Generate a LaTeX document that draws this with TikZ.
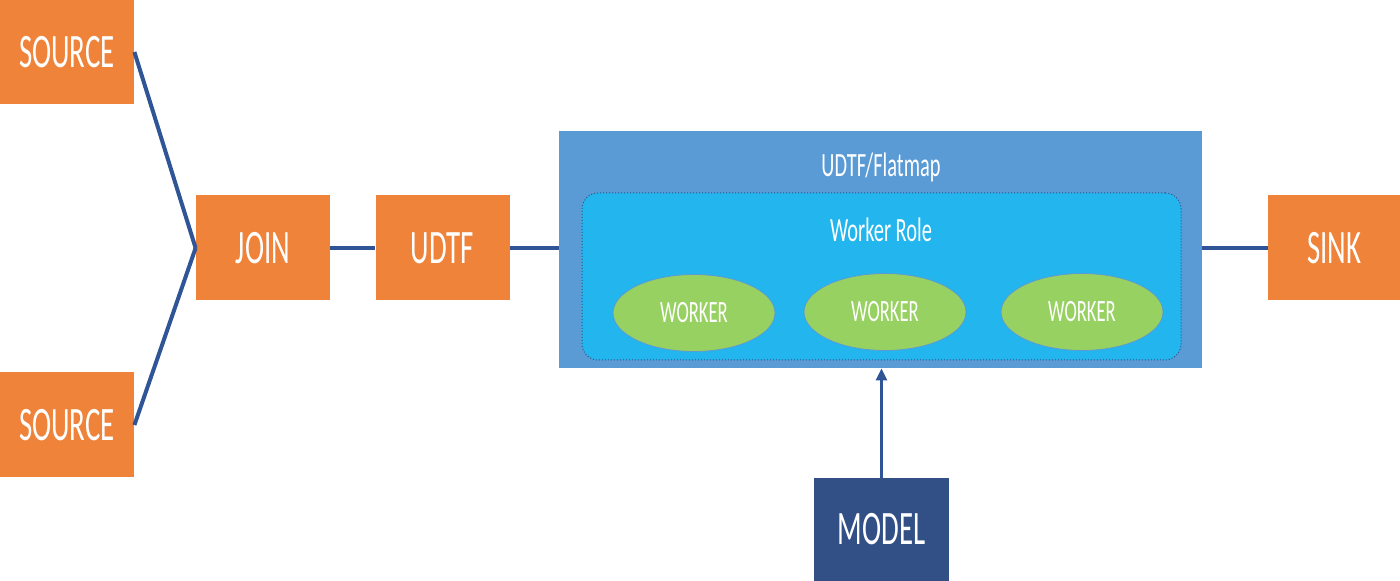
\documentclass[tikz,border=0pt]{standalone}
\usepackage{graphicx}
\usepackage{fontspec}
\setmainfont{Carlito}
\usetikzlibrary{arrows.meta,shapes.geometric}
\definecolor{boxorange}{HTML}{F0833A}
\definecolor{flatblue}{HTML}{5B9BD5}
\definecolor{roleblue}{HTML}{22B5EE}
\definecolor{workgreen}{HTML}{97D161}
\definecolor{modelblue}{HTML}{325086}
\definecolor{linkblue}{HTML}{2F5597}
\newcommand{\narrow}[1]{\scalebox{0.6}[1]{#1}}

\begin{document}
\begin{tikzpicture}[x=0.5pt, y=-0.5pt,
    stage/.style={fill=boxorange, text=white, minimum width=67pt, minimum height=52.5pt, inner sep=0pt,
      font=\fontsize{24}{28}\selectfont},
    worker/.style={ellipse, fill=workgreen, draw=flatblue, line width=0.4pt, text=white,
      minimum width=81pt, minimum height=38.5pt, inner sep=0pt, font=\fontsize{15.5}{18}\selectfont},
    link/.style={draw=linkblue, line width=2pt}]
      \useasboundingbox (0,0) rectangle (1400,581);
      % outer and inner containers
      \node[fill=flatblue, minimum width=321.5pt, minimum height=118.5pt, inner sep=0pt] (flat) at (880.5,249.5) {};
      \node[fill=roleblue, draw=modelblue, densely dotted, line width=0.5pt, rounded corners=8pt,
        minimum width=299.5pt, minimum height=83.5pt, inner sep=0pt] (role) at (881.5,276.5) {};
      \node[text=white, font=\fontsize{17}{20}\selectfont] (flatlabel) at (881,167) {\narrow{UDTF/Flatmap}};
      \node[text=white, font=\fontsize{17}{20}\selectfont] (rolelabel) at (881,230) {\narrow{Worker Role}};
      % workers
      \node[worker] (wone) at (694,313) {\narrow{WORKER}};
      \node[worker] (wtwo) at (885,312) {\narrow{WORKER}};
      \node[worker] (wthree) at (1082,312) {\narrow{WORKER}};
      % stages
      \node[stage] (srcone) at (67,52) {\narrow{SOURCE}};
      \node[stage] (srctwo) at (67,425) {\narrow{SOURCE}};
      \node[stage] (join) at (263,248) {\narrow{JOIN}};
      \node[stage] (udtf) at (442.5,248) {\narrow{UDTF}};
      \node[stage, minimum width=66pt] (sink) at (1334,248) {\narrow{SINK}};
      \node[stage, fill=modelblue, minimum width=67.5pt, minimum height=51.5pt] (model) at (881.5,529.5) {\narrow{MODEL}};
      % connectors
      \draw[link] (srcone.east) -- (join.west);
      \draw[link] (srctwo.east) -- (join.west);
      \draw[link] (join) -- (udtf);
      \draw[link] (udtf.east) -- (udtf.east -| flat.west);
      \draw[link] (sink.west -| flat.east) -- (sink.west);
      \draw[linkblue, line width=1.3pt, -{Triangle[width=5.5pt,length=6pt]}] (model.north) -- (model.north |- flat.south);
    \end{tikzpicture}
\end{document}
